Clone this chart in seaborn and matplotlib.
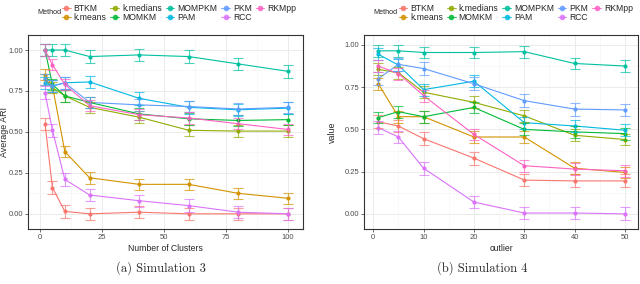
import pandas as pd
import seaborn as sns
import matplotlib.pyplot as plt
from matplotlib.lines import Line2D
from matplotlib.ticker import MultipleLocator

methods = ['BTKM', 'k.means', 'k.medians', 'MOMKM', 'MOMPKM', 'PAM', 'PKM', 'RCC', 'RKMpp']
colors = ['#F8766D', '#D39200', '#93AA00', '#00BA38', '#00C19F', '#00B9E3', '#619CFF', '#DB72FB', '#FF61C3']

# Simulation 3: number of clusters
clusters = [2, 5, 10, 20, 40, 60, 80, 100]
s3_btkm = [0.55, 0.16, 0.015, 0.0, 0.01, 0.0, 0.0, 0.0]
s3_kmeans = [0.85, 0.78, 0.38, 0.22, 0.18, 0.18, 0.125, 0.095]
s3_kmedians = [0.82, 0.77, 0.72, 0.65, 0.59, 0.51, 0.505, 0.505]
s3_momkm = [1.0, 0.79, 0.72, 0.68, 0.61, 0.58, 0.57, 0.575]
s3_mompkm = [1.0, 1.0, 1.0, 0.96, 0.97, 0.96, 0.915, 0.87]
s3_pam = [0.80, 0.78, 0.80, 0.805, 0.705, 0.65, 0.635, 0.645]
s3_pkm = [0.82, 0.78, 0.80, 0.68, 0.665, 0.655, 0.64, 0.65]
s3_rcc = [0.74, 0.51, 0.21, 0.115, 0.08, 0.05, 0.01, 0.0]
s3_rkmpp = [1.0, 0.91, 0.79, 0.66, 0.605, 0.585, 0.55, 0.515]
s3_err = [0.038, 0.035, 0.035, 0.035, 0.038, 0.038, 0.035, 0.038, 0.035]

# Simulation 4: number of outliers
outliers = [1, 5, 10, 20, 30, 40, 50]
s4_btkm = [0.545, 0.52, 0.445, 0.33, 0.20, 0.195, 0.195]
s4_kmeans = [0.77, 0.575, 0.575, 0.455, 0.455, 0.27, 0.245]
s4_kmedians = [0.855, 0.835, 0.72, 0.66, 0.58, 0.465, 0.44]
s4_momkm = [0.57, 0.605, 0.575, 0.63, 0.50, 0.485, 0.475]
s4_mompkm = [0.965, 0.965, 0.955, 0.955, 0.96, 0.89, 0.875]
s4_pam = [0.945, 0.88, 0.735, 0.785, 0.54, 0.52, 0.495]
s4_pkm = [0.80, 0.885, 0.86, 0.77, 0.67, 0.62, 0.615]
s4_rcc = [0.51, 0.455, 0.27, 0.07, 0.005, 0.005, 0.0]
s4_rkmpp = [0.875, 0.83, 0.70, 0.47, 0.285, 0.265, 0.255]
s4_err = [0.038, 0.035, 0.035, 0.035, 0.035, 0.035, 0.038, 0.038, 0.035]


def to_frame(xs, series, errs):
    rows = []
    for m, vals, e in zip(methods, series, errs):
        for x, v in zip(xs, vals):
            rows.append({'x': x, 'value': v, 'Method': m, 'err': e})
    return pd.DataFrame(rows)


df3 = to_frame(clusters, [s3_btkm, s3_kmeans, s3_kmedians, s3_momkm, s3_mompkm,
                          s3_pam, s3_pkm, s3_rcc, s3_rkmpp], s3_err)
df4 = to_frame(outliers, [s4_btkm, s4_kmeans, s4_kmedians, s4_momkm, s4_mompkm,
                          s4_pam, s4_pkm, s4_rcc, s4_rkmpp], s4_err)

sns.set_theme(style='white')
plt.rcParams['font.family'] = ['Liberation Sans Narrow', 'Liberation Sans', 'DejaVu Sans']

fig = plt.figure(figsize=(6.4, 2.84), dpi=100)
ax1 = fig.add_axes([0.044, 0.194, 0.429, 0.683])
ax2 = fig.add_axes([0.569, 0.194, 0.428, 0.683])


def draw(ax, df, xlab, ylab, xlim, ylim, xmaj, ylab_x):
    ax.set_axisbelow(True)
    sns.lineplot(data=df, x='x', y='value', hue='Method', hue_order=methods,
                 palette=colors, marker='o', markersize=3, markeredgewidth=0,
                 linewidth=0.8, errorbar=None, legend=False, ax=ax)
    for m, c in zip(methods, colors):
        d = df[df['Method'] == m]
        ax.errorbar(d['x'], d['value'], yerr=d['err'], fmt='none', ecolor=c,
                    elinewidth=0.8, capsize=3.5, capthick=0.8, alpha=0.7)
    ax.set_xlim(*xlim)
    ax.set_ylim(*ylim)
    ax.xaxis.set_major_locator(MultipleLocator(xmaj))
    ax.xaxis.set_minor_locator(MultipleLocator(xmaj / 2))
    ax.yaxis.set_major_locator(MultipleLocator(0.25))
    ax.yaxis.set_minor_locator(MultipleLocator(0.125))
    ax.yaxis.set_major_formatter(lambda v, p: f'{v:.2f}')
    ax.grid(which='major', color='#EBEBEB', linewidth=0.7)
    ax.grid(which='minor', color='#F4F4F4', linewidth=0.4)
    for s in ax.spines.values():
        s.set_color('#333333')
        s.set_linewidth(0.8)
    ax.tick_params(axis='both', which='major', labelsize=5.5, labelcolor='#4D4D4D',
                   length=2, width=0.5, color='#333333', pad=1.5,
                   bottom=True, left=True)
    ax.tick_params(which='minor', length=0)
    ax.set_xlabel(xlab, fontsize=6.2, labelpad=2)
    ax.set_ylabel(ylab, fontsize=6.4)
    ax.yaxis.set_label_coords(ylab_x, 0.5)


draw(ax1, df3, 'Number of Clusters', 'Average ARI', (-4.8, 106), (-0.092, 1.092), 25, -0.068)
draw(ax2, df4, 'outlier', 'value', (-1.8, 52.6), (-0.089, 1.059), 10, -0.098)

handles = [Line2D([0], [0], color=c, marker='o', markersize=3, linewidth=0.8, alpha=0.8)
           for c in colors]
for x_title, x_leg in [(0.058, 0.097), (0.583, 0.623)]:
    fig.text(x_title, 0.955, 'Method', fontsize=5.2, va='center', ha='left')
    fig.legend(handles, methods, ncol=5, loc='center left', bbox_to_anchor=(x_leg, 0.955),
               frameon=False, fontsize=6.2, handlelength=1.0, handletextpad=0.35,
               columnspacing=0.45, labelspacing=0.05, borderaxespad=0, borderpad=0)

fig.text(0.252, 0.055, '(a) Simulation 3', fontsize=9, family='cmr10', ha='center', va='center')
fig.text(0.753, 0.055, '(b) Simulation 4', fontsize=9, family='cmr10', ha='center', va='center')

fig.savefig('out.png', dpi=100)
